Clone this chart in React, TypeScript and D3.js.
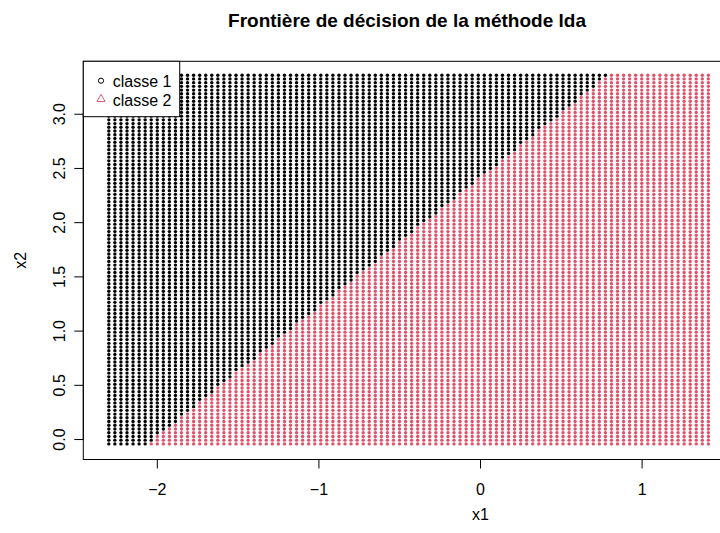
import React from "react";
import * as d3 from "d3";

// Grid of points (x1, x2) classified by the LDA rule
const gridX1Start = -2.3;
const gridX1End = 1.41;
const gridX2Start = -0.04;
const gridX2End = 3.36;
const gridCount = 100;
// decision boundary: points above the line -> classe 1
const boundaryPoints = [
  { x1: -2.06, x2: -0.04 },
  { x1: 0.79, x2: 3.36 },
];
const xTicks = [-2, -1, 0, 1];
const yTicks = [0, 0.5, 1, 1.5, 2, 2.5, 3];
const legendLabels = ["classe 1", "classe 2"];
const classColors = ["#000000", "#DF536B"];
const title = "Frontière de décision de la méthode lda";

const W = 720;
const H = 533;
const left = 83.3;
const top = 61.3;
const plotW = 680;
const plotH = 398.2;
const xDomain = [-2.458, 1.75];
const yDomain = [-0.184, 3.488];
const font = "'Liberation Sans', Arial, Helvetica, sans-serif";

export default function App() {
  const x = d3.scaleLinear().domain(xDomain).range([left, left + plotW]);
  const y = d3.scaleLinear().domain(yDomain).range([top + plotH, top]);
  const gx = d3.range(gridCount).map(
    (i) => gridX1Start + ((gridX1End - gridX1Start) * i) / (gridCount - 1)
  );
  const gy = d3.range(gridCount).map(
    (i) => gridX2Start + ((gridX2End - gridX2Start) * i) / (gridCount - 1)
  );
  const [b0, b1] = boundaryPoints;
  const slope = (b1.x2 - b0.x2) / (b1.x1 - b0.x1);
  const intercept = b0.x2 - slope * b0.x1;
  const pts: { x1: number; x2: number; c: number }[] = [];
  gx.forEach((a) =>
    gy.forEach((b) => {
      pts.push({ x1: a, x2: b, c: b > slope * a + intercept ? 0 : 1 });
    })
  );
  const bottom = top + plotH;
  const tri = (cx: number, cy: number, s: number) =>
    `M${cx},${cy - s * 0.65} L${cx + s * 0.58},${cy + s * 0.35} L${cx - s * 0.58},${cy + s * 0.35} Z`;
  return (
    <svg width={W} height={H} style={{ position: "absolute", left: 0, top: 0, background: "#fff" }}>
      <rect width={W} height={H} fill="#fff" />
      <text x={407} y={27} textAnchor="middle" fontFamily={font} fontWeight="bold" fontSize={19}>
        {title}
      </text>
      {pts.map((p, i) => (
        <circle key={i} cx={x(p.x1)} cy={y(p.x2)} r={1.7} fill={classColors[p.c]} />
      ))}
      <rect x={left} y={top} width={plotW} height={plotH} fill="none" stroke="#000" strokeWidth={1} />
      {/* x axis */}
      <line x1={x(xTicks[0])} x2={x(xTicks[xTicks.length - 1])} y1={bottom} y2={bottom} stroke="#000" />
      {xTicks.map((t) => (
        <g key={t}>
          <line x1={x(t)} x2={x(t)} y1={bottom} y2={bottom + 9} stroke="#000" />
          <text x={x(t)} y={bottom + 35} textAnchor="middle" fontFamily={font} fontSize={16}>
            {t < 0 ? "\u2212" + Math.abs(t) : String(t)}
          </text>
        </g>
      ))}
      {/* y axis */}
      <line x1={left} x2={left} y1={y(yTicks[0])} y2={y(yTicks[yTicks.length - 1])} stroke="#000" />
      {yTicks.map((t) => (
        <g key={t}>
          <line x1={left - 9} x2={left} y1={y(t)} y2={y(t)} stroke="#000" />
          <text
            transform={`translate(${left - 18},${y(t)}) rotate(-90)`}
            textAnchor="middle"
            fontFamily={font}
            fontSize={16}
          >
            {t.toFixed(1)}
          </text>
        </g>
      ))}
      <text x={x(0)} y={520} textAnchor="middle" fontFamily={font} fontSize={16}>
        x1
      </text>
      <text
        transform={`translate(26,${top + plotH / 2}) rotate(-90)`}
        textAnchor="middle"
        fontFamily={font}
        fontSize={16}
      >
        x2
      </text>
      {/* legend */}
      <rect x={left} y={top} width={96.4} height={55.4} fill="#fff" stroke="#000" />
      <circle cx={101} cy={80.7} r={2.6} fill="none" stroke={classColors[0]} strokeWidth={1} />
      <path d={tri(101, 99, 7)} fill="none" stroke={classColors[1]} strokeWidth={1} />
      {legendLabels.map((l, i) => (
        <text key={l} x={112.7} y={86.7 + i * 19} fontFamily={font} fontSize={16}>
          {l}
        </text>
      ))}
    </svg>
  );
}
